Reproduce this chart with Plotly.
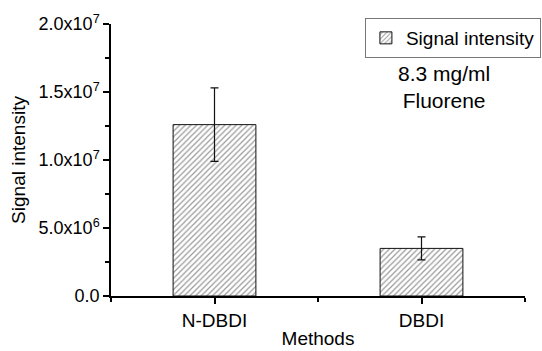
import plotly.graph_objects as go

categories = ["N-DBDI", "DBDI"]
values = [1.26e7, 3.5e6]
errors = [2.7e6, 0.85e6]
y_tick_vals = [0, 5e6, 1e7, 1.5e7, 2e7]
y_tick_text = ["0.0", "5.0x10<sup>6</sup>", "1.0x10<sup>7</sup>", "1.5x10<sup>7</sup>", "2.0x10<sup>7</sup>"]

FONT = "Arial"
xpos = list(range(len(categories)))

fig = go.Figure()
fig.add_trace(go.Bar(
    x=xpos, y=values, width=0.4, name="Signal intensity",
    marker=dict(color="white", line=dict(color="#111", width=1),
                pattern=dict(shape="/", fgcolor="#333", bgcolor="white", size=4, solidity=0.3)),
    error_y=dict(type="data", array=errors, visible=True, color="#111", thickness=1.2, width=4),
    showlegend=True,
))

fig.update_layout(
    width=542, height=351,
    margin=dict(l=111, r=17, t=24, b=55, autoexpand=False),
    paper_bgcolor="white", plot_bgcolor="white",
    font=dict(family=FONT, size=18, color="black"),
    showlegend=True,
    legend=dict(xref="container", yref="container", x=0.998, xanchor="right",
                y=1 - 18 / 351, yanchor="top",
                bordercolor="#777", borderwidth=1, bgcolor="white",
                font=dict(size=19), itemwidth=30, tracegroupgap=0),
    xaxis=dict(range=[-0.5, 1.5], tickvals=xpos, ticktext=categories,
               showline=True, linecolor="black", linewidth=1.5, mirror=False,
               ticks="outside", ticklen=6, tickwidth=1.5, tickcolor="black",
               minor=dict(tick0=-0.5, dtick=0.5, ticks="outside", ticklen=4, tickwidth=1.5, tickcolor="black"),
               showgrid=False, zeroline=False, automargin=False,
               tickfont=dict(size=19),
               title=dict(text="Methods", font=dict(size=19), standoff=2)),
    yaxis=dict(range=[0, 2e7], tickvals=y_tick_vals, ticktext=y_tick_text,
               showline=True, linecolor="black", linewidth=1.5,
               ticks="outside", ticklen=6, tickwidth=1.5, tickcolor="black",
               minor=dict(dtick=2.5e6, ticks="outside", ticklen=4, tickwidth=1.5, tickcolor="black"),
               showgrid=False, zeroline=False, automargin=False,
               tickfont=dict(size=18),
               title=dict(text="Signal intensity", font=dict(size=19), standoff=8)),
    annotations=[dict(x=(444 - 111) / 414, y=(296 - 87) / 272, xref="paper", yref="paper",
                      xanchor="center", yanchor="middle",
                      text="8.3 mg/ml<br>Fluorene", showarrow=False,
                      font=dict(size=21), align="center")],
)

fig.write_html("out.html", config={"displayModeBar": False},
               post_script="document.body.style.margin='0';document.body.style.overflow='hidden';")
